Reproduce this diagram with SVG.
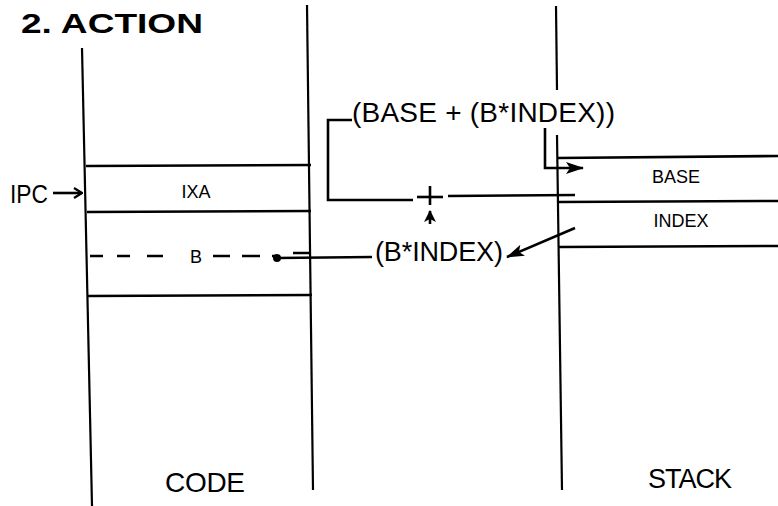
<svg xmlns="http://www.w3.org/2000/svg" width="778" height="506" viewBox="0 0 778 506">
<style>
.ln{stroke:#000;stroke-width:2.6;fill:none;stroke-linecap:butt}
.col{stroke:#000;stroke-width:2.2;fill:none}
.t{font-family:"Liberation Sans",Arial,sans-serif;fill:#000}
.big{font-size:28px}
.sm{font-size:18px}
</style>
<defs>
<marker id="ah" viewBox="0 0 12 12" refX="11" refY="6" markerWidth="12" markerHeight="12" markerUnits="userSpaceOnUse" orient="auto">
<path d="M0,0 L12,6 L0,12 L3,6 Z" fill="#000"/>
</marker>
<marker id="ah2" viewBox="0 0 18 12" refX="17" refY="6" markerWidth="18" markerHeight="12" markerUnits="userSpaceOnUse" orient="auto">
<path d="M0,0 L18,6 L0,12 L4,6 Z" fill="#000"/>
</marker>
<marker id="op" viewBox="0 0 10 12" refX="9" refY="6" markerWidth="10" markerHeight="12" markerUnits="userSpaceOnUse" orient="auto">
<path d="M1,1 L9,6 L1,11" fill="none" stroke="#000" stroke-width="2.2"/>
</marker>
</defs>

<text class="t" x="21" y="33" font-size="28" font-weight="bold" textLength="182" lengthAdjust="spacingAndGlyphs">2. ACTION</text>

<g id="code">
<line class="col" x1="82" y1="48" x2="92" y2="506"/>
<line class="col" x1="307" y1="5" x2="313" y2="490"/>
<line class="ln" x1="86" y1="166" x2="311" y2="165"/>
<line class="ln" x1="87" y1="212" x2="311" y2="211"/>
<line class="ln" x1="88" y1="296" x2="312" y2="295"/>
<text class="t sm" x="196" y="198" text-anchor="middle">IXA</text>
<text class="t big" x="205" y="492" text-anchor="middle" textLength="80">CODE</text>
</g>

<g id="slotB">
<path class="ln" d="M90 256h13 M117 256h13 M147 256h16 M213 256h17 M242 256h18 M272 256h5 M293 253h18"/>
<text class="t sm" x="196" y="263" text-anchor="middle">B</text>
<circle cx="277" cy="258" r="4" fill="#000"/>
</g>

<g id="ipc">
<text class="t" x="10" y="203" font-size="25" textLength="38" lengthAdjust="spacingAndGlyphs">IPC</text>
</g>

<g id="stack">
<line class="col" x1="556" y1="6" x2="557" y2="90"/>
<line class="col" x1="557" y1="135" x2="562" y2="490"/>
<line class="ln" x1="557" y1="158" x2="778" y2="156"/>
<line class="ln" x1="558" y1="202" x2="778" y2="201"/>
<line class="ln" x1="559" y1="247" x2="778" y2="246"/>
<text class="t sm" x="676" y="183" text-anchor="middle">BASE</text>
<text class="t sm" x="681" y="227" text-anchor="middle">INDEX</text>
<text class="t" x="690" y="488" font-size="27" text-anchor="middle" textLength="84">STACK</text>
</g>

<g id="sum">
<text class="t big" x="352" y="122" textLength="263">(BASE + (B*INDEX))</text>
<line class="ln" x1="417" y1="197" x2="443" y2="197"/>
<line class="ln" x1="430" y1="186" x2="430" y2="205"/>
</g>

<g id="bindex">
<text class="t" x="375" y="261" font-size="27" textLength="128">(B*INDEX)</text>
</g>

<g id="connectors">
<line class="ln" x1="53" y1="193" x2="82" y2="193" marker-end="url(#op)"/>
<path class="ln" d="M352 120 H328 V200 H413"/>
<line class="ln" x1="448" y1="196" x2="575" y2="195"/>
<line class="ln" x1="430" y1="224" x2="430" y2="211" marker-end="url(#ah)"/>
<path class="ln" d="M545 128 V168 H583" marker-end="url(#ah2)"/>
<line class="ln" x1="277" y1="258" x2="372" y2="257"/>
<line class="ln" x1="575" y1="228" x2="507" y2="257" marker-end="url(#ah2)"/>
</g>
</svg>
